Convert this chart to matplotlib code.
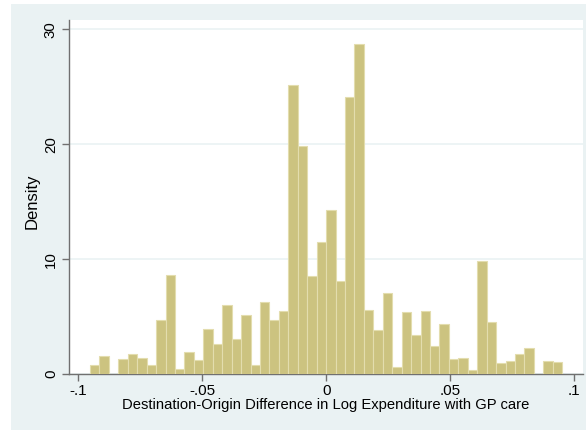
import numpy as np
import matplotlib
matplotlib.use("Agg")
import matplotlib.pyplot as plt
from matplotlib.patches import Rectangle

# Histogram data (density per bin), 50 equal bins
bin_start = -0.0953
bin_end = 0.0952
density = [0.78, 1.60, 0.0, 1.28, 1.74, 1.39, 0.81, 4.67, 8.59, 0.44,
           1.89, 1.22, 3.89, 2.58, 5.98, 3.05, 5.13, 0.75, 6.24, 4.73,
           5.51, 25.12, 19.87, 8.53, 11.49, 14.30, 8.09, 24.08, 28.69, 5.57,
           3.80, 7.02, 0.61, 5.37, 3.42, 5.45, 2.44, 4.35, 1.28, 1.39,
           0.38, 9.81, 4.53, 0.93, 1.16, 1.74, 2.23, 0.0, 1.13, 1.07]
xticks = [-0.1, -0.05, 0, 0.05, 0.1]
xticklabels = ["-.1", "-.05", "0", ".05", ".1"]
yticks = [0, 10, 20, 30]
yticklabels = ["0", "10", "20", "30"]
xlabel = "Destination-Origin Difference in Log Expenditure with GP care"
ylabel = "Density"

plt.rcParams['font.family'] = ['Liberation Sans', 'DejaVu Sans']

W, H = 586, 430
fig = plt.figure(figsize=(W / 100, H / 100), dpi=100)
fig.patch.set_facecolor('white')
bg = '#EAF2F3'
fig.patches.append(Rectangle((11 / W, 0), 1 - 11 / W, (H - 4) / H,
                             transform=fig.transFigure, facecolor=bg,
                             edgecolor='none', zorder=-10))

ax = fig.add_axes([69 / W, 1 - 374 / H, (583 - 69) / W, (374 - 19.5) / H])
ax.set_facecolor('white')

edges = np.linspace(bin_start, bin_end, len(density) + 1)
widths = np.diff(edges)
ax.bar(edges[:-1], density, width=widths, align='edge',
       color='#CCC380', edgecolor='#E3DDAE', linewidth=0.8, zorder=3)

ax.set_xlim(-0.10376, 0.10356)
ax.set_ylim(0, 30.85)

ax.set_xticks(xticks)
ax.set_xticklabels(xticklabels)
ax.set_yticks(yticks)
ax.set_yticklabels(yticklabels, rotation=90, va='center')

ax.yaxis.grid(True, color=bg, linewidth=1.2, zorder=0)
ax.set_axisbelow(True)

for s in ['top', 'right']:
    ax.spines[s].set_visible(False)
for s in ['left', 'bottom']:
    ax.spines[s].set_color('#707070')
    ax.spines[s].set_linewidth(1.0)

ax.tick_params(axis='both', direction='out', length=5, width=1,
               color='#707070', labelcolor='black')
ax.tick_params(axis='x', pad=2, labelsize=11)
ax.tick_params(axis='y', pad=3, labelsize=10.8)

ax.set_xlabel(xlabel, fontsize=10.6, labelpad=0.5)
ax.set_ylabel(ylabel, fontsize=12)
ax.yaxis.set_label_coords(-0.057, 0.488)

fig.savefig('out.png', dpi=100, facecolor=fig.get_facecolor())
